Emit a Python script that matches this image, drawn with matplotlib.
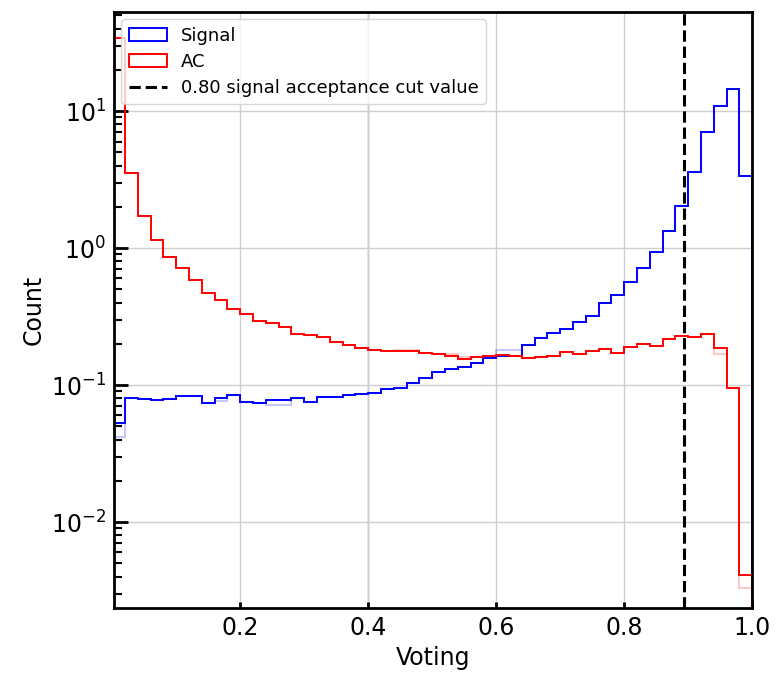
import numpy as np
import matplotlib

matplotlib.use("Agg")

import matplotlib.pyplot as plt

# bin edges of the voting histogram (50 bins, 0..1)
bin_edges = np.linspace(0.0, 1.0, 51)

# Signal counts per bin
signal = [0.053, 0.081, 0.079, 0.078, 0.079, 0.083, 0.083, 0.0737, 0.080, 0.084,
          0.0755, 0.0737, 0.078, 0.078, 0.080, 0.0747, 0.0813, 0.0822, 0.0845, 0.0856,
          0.088, 0.093, 0.096, 0.104, 0.113, 0.125, 0.130, 0.135, 0.146, 0.157,
          0.163, 0.163, 0.196, 0.219, 0.238, 0.256, 0.290, 0.319, 0.395, 0.454,
          0.568, 0.711, 0.930, 1.33, 2.03, 3.57, 7.07, 10.9, 14.5, 3.37]

# AC counts per bin
ac = [34.0, 3.51, 1.71, 1.14, 0.855, 0.71, 0.584, 0.472, 0.415, 0.36,
      0.33, 0.295, 0.285, 0.264, 0.234, 0.232, 0.223, 0.207, 0.196, 0.187,
      0.180, 0.178, 0.177, 0.176, 0.172, 0.169, 0.164, 0.154, 0.159, 0.163,
      0.166, 0.164, 0.157, 0.160, 0.164, 0.173, 0.168, 0.178, 0.182, 0.172,
      0.190, 0.199, 0.193, 0.216, 0.228, 0.225, 0.234, 0.185, 0.095, 0.0041]

# faint second pass drawn underneath
signal_faint = [0.042, 0.081, 0.079, 0.078, 0.079, 0.083, 0.083, 0.0737, 0.077, 0.084,
                0.0755, 0.0737, 0.071, 0.072, 0.080, 0.0747, 0.0813, 0.0822, 0.0845, 0.0856,
                0.088, 0.093, 0.096, 0.104, 0.113, 0.125, 0.130, 0.135, 0.146, 0.160,
                0.180, 0.180, 0.196, 0.219, 0.238, 0.256, 0.290, 0.319, 0.395, 0.454,
                0.568, 0.711, 0.930, 1.33, 2.03, 3.57, 7.07, 10.9, 14.5, 3.37]
ac_faint = [34.0, 3.51, 1.71, 1.14, 0.855, 0.71, 0.584, 0.472, 0.415, 0.36,
            0.33, 0.295, 0.285, 0.264, 0.234, 0.232, 0.223, 0.207, 0.196, 0.187,
            0.180, 0.178, 0.180, 0.180, 0.172, 0.169, 0.170, 0.160, 0.159, 0.163,
            0.166, 0.164, 0.157, 0.160, 0.164, 0.173, 0.168, 0.178, 0.182, 0.172,
            0.190, 0.199, 0.193, 0.216, 0.228, 0.225, 0.234, 0.170, 0.095, 0.0033]

cut_value = 0.893
cut_label = "0.80 signal acceptance cut value"

fig = plt.figure(figsize=(7.77, 6.74), dpi=100)
ax = fig.add_axes([0.147, 0.098, 0.821, 0.884])

centers = 0.5 * (bin_edges[:-1] + bin_edges[1:])

# faint copies first
ax.hist(centers, bins=bin_edges, weights=signal_faint, histtype="step",
        color="blue", alpha=0.22, lw=1.5)
ax.hist(centers, bins=bin_edges, weights=ac_faint, histtype="step",
        color="red", alpha=0.22, lw=1.5)

ax.hist(centers, bins=bin_edges, weights=signal, histtype="step",
        color="blue", lw=1.4, label="Signal")
ax.hist(centers, bins=bin_edges, weights=ac, histtype="step",
        color="red", lw=1.4, label="AC")
ax.axvline(cut_value, color="black", ls="--", lw=2.2, label=cut_label)

ax.set_yscale("log")
ax.set_xlim(0.003, 1.0)
ax.set_ylim(0.00236, 52.8)

ax.grid(True, which="major", color="#cfcfcf", lw=1.0)
ax.axvline(0.4, color="#a0a0a0", lw=1.0, zorder=0.5)
ax.set_axisbelow(True)

ax.tick_params(axis="both", which="major", direction="in", labelsize=17,
               width=2, color="black")
ax.tick_params(axis="y", which="major", length=10, pad=6)
ax.tick_params(axis="y", which="minor", direction="in", length=5.5, width=1.5)
ax.tick_params(axis="x", which="major", length=4, pad=6)
for s in ax.spines.values():
    s.set_linewidth(2.0)

ax.set_xlabel("Voting", fontsize=17)
ax.set_ylabel("Count", fontsize=17)

ax.legend(loc="upper left", fontsize=13, handlelength=2.1,
          borderaxespad=0.4, labelspacing=0.45, handletextpad=0.8)

fig.savefig("out.png", dpi=100)
